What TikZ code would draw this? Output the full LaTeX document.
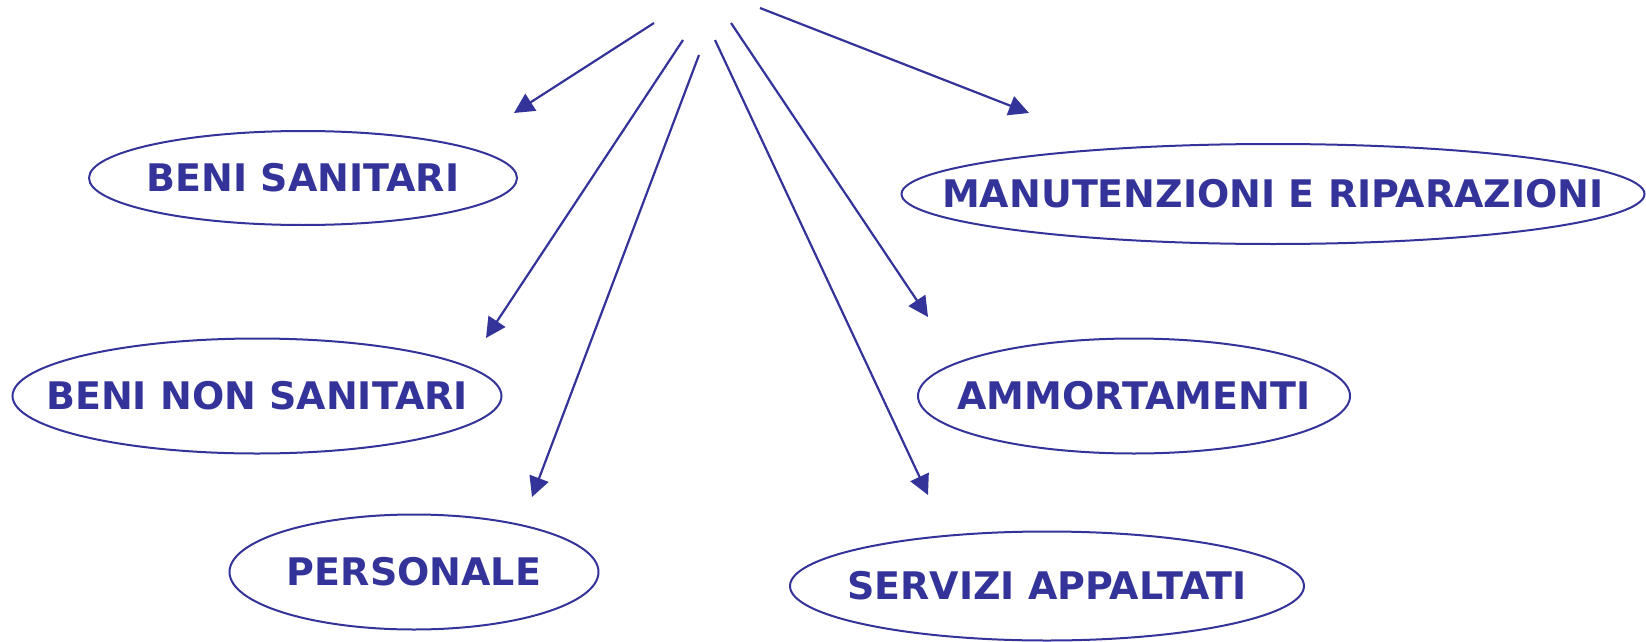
\documentclass[tikz,border=0pt]{standalone}
\usepackage{fontspec}
\setsansfont{DejaVu Sans}
\usepackage{tikz}
\definecolor{cost_blue}{HTML}{333399}
\tikzset{
  item_font/.style = {font=\sffamily\bfseries\fontsize{38}{42}\selectfont},
  cost/.style = {item_font, shape=ellipse, draw=cost_blue, text=cost_blue, line width=2pt, inner xsep=-400pt, inner ysep=-100pt},
  flow/.style = {draw=cost_blue, line width=2.2pt, -{Triangle[length=20pt,width=20pt]}}
}
\usetikzlibrary{shapes.geometric, arrows.meta}

\begin{document}
\begin{tikzpicture}[x=1pt, y=-1pt]
        \useasboundingbox (0,0) rectangle (1646,642);

        % Cost items
        \node[cost, minimum width=428, minimum height=94] at (303,178) (beni_san) {BENI SANITARI};
        \node[cost, minimum width=743, minimum height=100] at (1273,194) (manut) {MANUTENZIONI E RIPARAZIONI};
        \node[cost, minimum width=489, minimum height=115] at (257,396) (beni_non) {BENI NON SANITARI};
        \node[cost, minimum width=432, minimum height=115] at (1134,396) (ammort) {AMMORTAMENTI};
        \node[cost, minimum width=369, minimum height=115] at (414,572) (personale) {PERSONALE};
        \node[cost, minimum width=514, minimum height=109] at (1047,586) (servizi) {SERVIZI APPALTATI};

        % Start and tip points
        \coordinate (s_1) at (654,23);   \coordinate (t_1) at (514,113);
        \coordinate (s_2) at (683,40);   \coordinate (t_2) at (486,338);
        \coordinate (s_3) at (699,55);   \coordinate (t_3) at (532,497);
        \coordinate (s_4) at (715,40);   \coordinate (t_4) at (928,495);
        \coordinate (s_5) at (731,23);   \coordinate (t_5) at (928,317);
        \coordinate (s_6) at (760,8);    \coordinate (t_6) at (1029,113);

        % Arrows
        \draw[flow] (s_1)--(t_1);
        \draw[flow] (s_2)--(t_2);
        \draw[flow] (s_3)--(t_3);
        \draw[flow] (s_4)--(t_4);
        \draw[flow] (s_5)--(t_5);
        \draw[flow] (s_6)--(t_6);
\end{tikzpicture}
\end{document}
